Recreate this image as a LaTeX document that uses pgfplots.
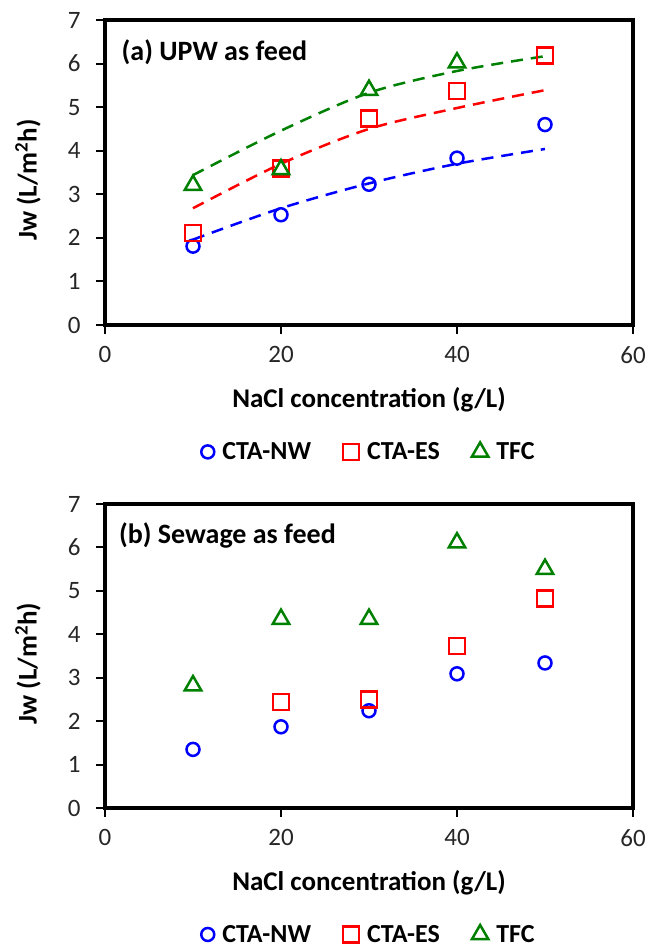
\documentclass[border=0pt]{standalone}
\usepackage{fontspec}
\setmainfont{Carlito}
\usepackage{pgfplots}
\pgfplotsset{compat=1.18}

\definecolor{cnw}{RGB}{0,0,255}
\definecolor{ces}{RGB}{255,0,0}
\definecolor{tfc}{RGB}{0,128,0}

\pgfplotsset{
  fluxaxis/.style={
    scale only axis, width=528pt, height=305pt,
    xmin=0, xmax=60, ymin=0, ymax=7,
    xtick={0,20,40,60}, ytick={0,1,...,7},
    axis line style={line width=3.5pt},
    every tick/.style={black, line width=2pt},
    major tick length=9pt,
    tick align=outside, xtick pos=left, ytick pos=left,
    /pgf/number format/assume math mode=true,
    ticklabel style={font=\fontsize{25}{25}\selectfont, text=black!85},
    xticklabel style={yshift=-9pt},
    yticklabel style={xshift=-12pt},
    xlabel={NaCl concentration (g/L)},
    ylabel={Jw (L/m\textsuperscript{2}h)},
    label style={font=\bfseries\fontsize{27}{27}\selectfont},
    xlabel style={at={(axis description cs:0.5,-0.246)}, anchor=center},
    ylabel style={at={(axis description cs:-0.146,0.475)}, anchor=center},
    legend columns=3,
    legend style={draw=none, fill=none, at={(0.5,-0.416)}, anchor=center,
      font=\bfseries\fontsize{26}{26}\selectfont,
      /tikz/every even column/.append style={column sep=30pt}},
    clip=false,
  },
  nwmark/.style={only marks, mark=o, cnw, mark size=6.5pt, line width=2.5pt},
  esmark/.style={only marks, mark=square, ces, mark size=8pt, line width=2.5pt},
  tfmark/.style={only marks, mark=triangle, tfc, mark size=9.5pt, line width=2.5pt},
  trend/.style={smooth, line width=2.5pt, dash pattern=on 12pt off 8pt, forget plot},
}

\begin{document}
\begin{tikzpicture}
\useasboundingbox (0,0) rectangle (648pt,-949pt);

% (a) ultrapure water feed, with fitted trends
\begin{axis}[fluxaxis, at={(105pt,-325pt)}, anchor=south west]
  \addplot[trend, cnw] coordinates {(10,1.96) (20,2.68) (30,3.25) (40,3.70) (50,4.04)};
  \addplot[trend, ces] coordinates {(10,2.68) (20,3.70) (30,4.50) (40,4.98) (50,5.39)};
  \addplot[trend, tfc] coordinates {(10,3.44) (20,4.46) (30,5.33) (40,5.83) (50,6.17)};
  \addplot[nwmark] coordinates {(10,1.81) (20,2.53) (30,3.23) (40,3.83) (50,4.60)};
  \addlegendentry{\hspace{6pt}CTA-NW}
  \addplot[esmark] coordinates {(10,2.11) (20,3.59) (30,4.74) (40,5.37) (50,6.18)};
  \addlegendentry{\hspace{6pt}CTA-ES}
  \addplot[tfmark] coordinates {(10,3.21) (20,3.57) (30,5.39) (40,6.02)};
  \addlegendentry{\hspace{6pt}TFC}
  \node[anchor=west, font=\bfseries\fontsize{28}{28}\selectfont]
    at (rel axis cs:0.025,0.895) {(a) UPW as feed};
\end{axis}

% (b) sewage feed
\begin{axis}[fluxaxis, at={(105pt,-808pt)}, anchor=south west, height=304pt]
  \addplot[nwmark] coordinates {(10,1.35) (20,1.87) (30,2.24) (40,3.09) (50,3.34)};
  \addlegendentry{\hspace{6pt}CTA-NW}
  \addplot[esmark] coordinates {(20,2.44) (30,2.50) (40,3.73) (50,4.83)};
  \addlegendentry{\hspace{6pt}CTA-ES}
  \addplot[tfmark] coordinates {(10,2.82) (20,4.35) (30,4.35) (40,6.11) (50,5.50)};
  \addlegendentry{\hspace{6pt}TFC}
  \node[anchor=west, font=\bfseries\fontsize{28}{28}\selectfont]
    at (rel axis cs:0.02,0.898) {(b) Sewage as feed};
\end{axis}
\end{tikzpicture}
\end{document}
